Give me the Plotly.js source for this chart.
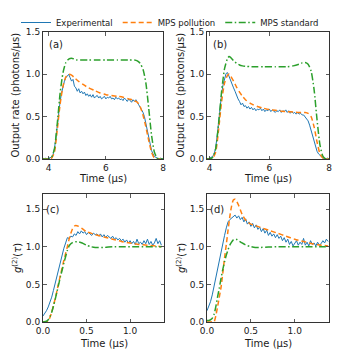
<!DOCTYPE html>
<html>
<head>
<meta charset="utf-8">
<script src="https://cdn.plot.ly/plotly-3.0.1.min.js"></script>
<style>
  html, body { margin: 0; padding: 0; background: #fff; }
  #chart { width: 342px; height: 358px; }
</style>
</head>
<body>
<div id="chart"></div>
<script>
(function () {
  'use strict';

  /* ---- panel (a): output rate, experiment vs MPS ---- */
  const tA = [3.80, 3.85, 3.90, 3.95, 4.00, 4.05, 4.10, 4.15, 4.20, 4.25, 4.30, 4.35, 4.40, 4.45, 4.50, 4.55,
    4.60, 4.65, 4.70, 4.75, 4.80, 4.85, 4.90, 4.95, 5.00, 5.05, 5.10, 5.15, 5.20, 5.25, 5.30, 5.35,
    5.40, 5.45, 5.50, 5.55, 5.60, 5.65, 5.70, 5.75, 5.80, 5.85, 5.90, 5.95, 6.00, 6.05, 6.10, 6.15,
    6.20, 6.25, 6.30, 6.35, 6.40, 6.45, 6.50, 6.55, 6.60, 6.65, 6.70, 6.75, 6.80, 6.85, 6.90, 6.95,
    7.00, 7.05, 7.10, 7.15, 7.20, 7.25, 7.30, 7.35, 7.40, 7.45, 7.50, 7.55, 7.60, 7.65, 7.70, 7.75,
    7.80, 7.85, 7.90, 7.95, 8.00];
  const expA = [0.01, 0.00, 0.01, 0.00, 0.01, 0.02, 0.02, 0.05, 0.12, 0.25, 0.42, 0.56, 0.68, 0.78, 0.86, 0.92,
    0.96, 0.98, 1.00, 0.96, 0.92, 0.94, 0.86, 0.84, 0.80, 0.83, 0.78, 0.80, 0.77, 0.79, 0.75, 0.77,
    0.74, 0.76, 0.73, 0.76, 0.72, 0.74, 0.75, 0.72, 0.74, 0.71, 0.73, 0.74, 0.71, 0.73, 0.72, 0.74,
    0.71, 0.72, 0.70, 0.73, 0.71, 0.72, 0.70, 0.71, 0.69, 0.72, 0.70, 0.68, 0.71, 0.69, 0.67, 0.70,
    0.68, 0.70, 0.66, 0.64, 0.61, 0.58, 0.55, 0.50, 0.42, 0.33, 0.24, 0.16, 0.10, 0.06, 0.03, 0.02,
    0.01, 0.00, 0.01, 0.00, 0.00];
  const tThA = [3.8, 4.0, 4.1, 4.2, 4.3, 4.4, 4.5, 4.6, 4.7, 4.8, 4.9, 5.0, 5.2, 5.4, 5.6, 5.8, 6.0,
    6.2, 6.4, 6.6, 6.8, 7.0, 7.1, 7.2, 7.3, 7.4, 7.5, 7.6, 7.7, 7.8, 7.9, 8.0];
  const polA = [0, 0, 0.01, 0.08, 0.35, 0.65, 0.86, 0.97, 1.00, 0.99, 0.96, 0.93, 0.88, 0.84, 0.81, 0.78, 0.76,
    0.75, 0.74, 0.73, 0.71, 0.69, 0.67, 0.62, 0.52, 0.38, 0.22, 0.08, 0.01, 0, 0, 0];
  const stdA = [0, 0, 0.02, 0.12, 0.42, 0.78, 1.02, 1.14, 1.18, 1.19, 1.18, 1.17, 1.17, 1.17, 1.17, 1.17, 1.17,
    1.17, 1.17, 1.17, 1.17, 1.17, 1.16, 1.13, 1.06, 0.90, 0.60, 0.28, 0.08, 0.01, 0, 0];

  /* ---- panel (b) ---- */
  const tB = [3.90, 3.95, 4.00, 4.05, 4.10, 4.15, 4.20, 4.25, 4.30, 4.35, 4.40, 4.45, 4.50, 4.55,
    4.60, 4.65, 4.70, 4.75, 4.80, 4.85, 4.90, 4.95, 5.00, 5.05, 5.10, 5.15, 5.20, 5.25, 5.30, 5.35,
    5.40, 5.45, 5.50, 5.55, 5.60, 5.65, 5.70, 5.75, 5.80, 5.85, 5.90, 5.95, 6.00, 6.05, 6.10, 6.15,
    6.20, 6.25, 6.30, 6.35, 6.40, 6.45, 6.50, 6.55, 6.60, 6.65, 6.70, 6.75, 6.80, 6.85, 6.90, 6.95,
    7.00, 7.05, 7.10, 7.15, 7.20, 7.25, 7.30, 7.35, 7.40, 7.45, 7.50, 7.55, 7.60, 7.65, 7.70, 7.75,
    7.80, 7.85, 7.90, 7.95, 8.00];
  const expB = [0.01, 0.00, 0.01, 0.02, 0.03, 0.06, 0.13, 0.27, 0.45, 0.62, 0.77, 0.88, 0.96, 1.01,
    1.02, 0.97, 0.93, 0.88, 0.84, 0.80, 0.74, 0.71, 0.68, 0.64, 0.66, 0.62, 0.63, 0.60, 0.62, 0.59,
    0.61, 0.58, 0.60, 0.57, 0.59, 0.58, 0.60, 0.57, 0.59, 0.56, 0.58, 0.57, 0.59, 0.56, 0.58, 0.57,
    0.55, 0.57, 0.56, 0.58, 0.55, 0.57, 0.56, 0.58, 0.55, 0.57, 0.54, 0.56, 0.54, 0.55, 0.53, 0.55,
    0.53, 0.54, 0.52, 0.52, 0.50, 0.48, 0.45, 0.40, 0.34, 0.27, 0.20, 0.14, 0.09, 0.06, 0.04, 0.02,
    0.01, 0.01, 0.00, 0.01, 0.00];
  const tThB = [3.9, 4.0, 4.1, 4.2, 4.3, 4.4, 4.5, 4.6, 4.65, 4.7, 4.8, 4.9, 5.0, 5.1, 5.2, 5.4, 5.6,
    5.8, 6.0, 6.2, 6.4, 6.6, 6.8, 7.0, 7.1, 7.2, 7.3, 7.4, 7.5, 7.6, 7.7, 7.8, 7.9, 8.0];
  const polB = [0, 0, 0.01, 0.08, 0.35, 0.68, 0.90, 0.99, 1.00, 0.98, 0.92, 0.85, 0.79, 0.74, 0.70, 0.65, 0.62,
    0.60, 0.585, 0.575, 0.565, 0.56, 0.555, 0.55, 0.55, 0.55, 0.54, 0.50, 0.38, 0.20, 0.06, 0.01, 0, 0];
  const stdB = [0, 0, 0.02, 0.12, 0.42, 0.80, 1.07, 1.19, 1.21, 1.20, 1.16, 1.13, 1.11, 1.10, 1.095, 1.09, 1.09,
    1.09, 1.09, 1.09, 1.09, 1.09, 1.10, 1.12, 1.135, 1.14, 1.12, 1.04, 0.82, 0.46, 0.16, 0.03, 0, 0];

  /* ---- panel (c): g2(tau) ---- */
  const tauC = [0.00, 0.02, 0.04, 0.06, 0.08, 0.10, 0.12, 0.14, 0.16, 0.18, 0.20, 0.22, 0.24, 0.26, 0.28, 0.30,
    0.32, 0.34, 0.36, 0.38, 0.40, 0.42, 0.44, 0.46, 0.48, 0.50, 0.52, 0.54, 0.56, 0.58, 0.60, 0.62,
    0.64, 0.66, 0.68, 0.70, 0.72, 0.74, 0.76, 0.78, 0.80, 0.82, 0.84, 0.86, 0.88, 0.90, 0.92, 0.94,
    0.96, 0.98, 1.00, 1.02, 1.04, 1.06, 1.08, 1.10, 1.12, 1.14, 1.16, 1.18, 1.20, 1.22, 1.24, 1.26,
    1.28, 1.30, 1.32, 1.34, 1.36];
  const expC = [0.08, 0.11, 0.15, 0.20, 0.26, 0.33, 0.42, 0.52, 0.62, 0.72, 0.80, 0.90, 0.98, 1.05, 1.12, 1.11,
    1.14, 1.13, 1.17, 1.15, 1.20, 1.17, 1.21, 1.18, 1.20, 1.16, 1.19, 1.17, 1.15, 1.18, 1.16, 1.17,
    1.14, 1.17, 1.13, 1.16, 1.12, 1.15, 1.13, 1.11, 1.14, 1.10, 1.12, 1.09, 1.11, 1.08, 1.10, 1.06,
    1.09, 1.05, 1.08, 1.04, 1.07, 1.03, 1.10, 1.04, 1.06, 1.03, 1.08, 1.04, 1.10, 1.03, 1.07, 1.02,
    1.05, 1.11, 1.04, 1.08, 1.02];
  const tauThC = [0.00, 0.04, 0.06, 0.08, 0.10, 0.12, 0.14, 0.16, 0.18, 0.20, 0.22, 0.24, 0.26, 0.28, 0.30,
    0.32, 0.34, 0.37, 0.41, 0.45, 0.50, 0.55, 0.60, 0.70, 0.80, 0.90, 1.00, 1.10, 1.20, 1.30, 1.36];
  const polC = [0, 0, 0.01, 0.06, 0.13, 0.22, 0.31, 0.41, 0.52, 0.62, 0.72, 0.82, 0.91, 1.00, 1.10,
    1.18, 1.24, 1.28, 1.27, 1.24, 1.20, 1.18, 1.16, 1.13, 1.10, 1.07, 1.05, 1.03, 1.02, 1.01, 1.00];
  const stdC = [0, 0.01, 0.03, 0.07, 0.13, 0.21, 0.30, 0.40, 0.50, 0.60, 0.69, 0.78, 0.87, 0.95, 1.01,
    1.04, 1.055, 1.065, 1.065, 1.05, 1.02, 1.00, 0.99, 0.99, 1.00, 1.00, 1.00, 1.00, 1.00, 1.00, 1.00];

  /* ---- panel (d) ---- */
  const tauD = [0.00, 0.02, 0.04, 0.06, 0.08, 0.10, 0.12, 0.14, 0.16, 0.18, 0.20, 0.22, 0.24, 0.26, 0.28, 0.30,
    0.32, 0.34, 0.36, 0.38, 0.40, 0.42, 0.44, 0.46, 0.48, 0.50, 0.52, 0.54, 0.56, 0.58, 0.60, 0.62,
    0.64, 0.66, 0.68, 0.70, 0.72, 0.74, 0.76, 0.78, 0.80, 0.82, 0.84, 0.86, 0.88, 0.90, 0.92, 0.94,
    0.96, 0.98, 1.00, 1.02, 1.04, 1.06, 1.08, 1.10, 1.12, 1.14, 1.16, 1.18, 1.20, 1.22, 1.24, 1.26,
    1.28, 1.30, 1.32, 1.34, 1.36, 1.38];
  const expD = [0.15, 0.20, 0.27, 0.36, 0.48, 0.60, 0.71, 0.82, 0.94, 1.05, 1.15, 1.25, 1.33, 1.36, 1.38, 1.40,
    1.42, 1.38, 1.41, 1.36, 1.39, 1.33, 1.37, 1.30, 1.33, 1.27, 1.31, 1.25, 1.29, 1.23, 1.26, 1.20,
    1.24, 1.18, 1.22, 1.15, 1.19, 1.14, 1.17, 1.12, 1.16, 1.11, 1.14, 1.08, 1.12, 1.06, 1.10, 1.03,
    1.07, 1.01, 1.05, 1.08, 1.02, 1.06, 1.03, 1.11, 1.02, 1.06, 1.01, 1.08, 1.03, 1.05, 1.01, 1.06,
    1.02, 1.04, 1.08, 1.05, 1.10, 1.07];
  const tauThD = [0.00, 0.02, 0.04, 0.06, 0.08, 0.10, 0.12, 0.14, 0.16, 0.18, 0.20, 0.22, 0.24, 0.26, 0.28,
    0.30, 0.32, 0.34, 0.36, 0.38, 0.40, 0.43, 0.46, 0.50, 0.55, 0.60, 0.70, 0.80, 0.90, 1.00, 1.10,
    1.20, 1.30, 1.38];
  const polD = [0, 0, 0, 0, 0, 0.08, 0.20, 0.33, 0.46, 0.65, 0.85, 1.03, 1.22, 1.40, 1.54,
    1.62, 1.63, 1.60, 1.55, 1.49, 1.43, 1.37, 1.33, 1.30, 1.28, 1.26, 1.22, 1.18, 1.14, 1.10, 1.07,
    1.04, 1.02, 1.01];
  const stdD = [0.02, 0.02, 0.03, 0.05, 0.10, 0.20, 0.33, 0.45, 0.58, 0.70, 0.80, 0.89, 0.96, 1.02, 1.06,
    1.09, 1.10, 1.095, 1.08, 1.065, 1.05, 1.03, 1.015, 1.00, 0.99, 0.99, 0.995, 1.00, 1.00, 1.00, 1.00,
    1.00, 1.00, 1.00];

  const NAMES = ['Experimental', 'MPS pollution', 'MPS standard'];
  const BLUE = '#1f77b4', ORANGE = '#ff7f0e', GREEN = '#2ca02c';
  const TXT = '#1a1a1a';

  function panel(xa, ya, tExp, yExp, tTh, yPol, yStd, legend) {
    return [
      { x: tExp, y: yExp, xaxis: xa, yaxis: ya, type: 'scatter', mode: 'lines',
        line: { color: BLUE, width: 1 }, name: NAMES[0], showlegend: legend },
      { x: tTh, y: yPol, xaxis: xa, yaxis: ya, type: 'scatter', mode: 'lines',
        line: { color: ORANGE, width: 1.5, dash: '5px,3px', shape: 'spline', smoothing: 0.6 },
        name: NAMES[1], showlegend: legend },
      { x: tTh, y: yStd, xaxis: xa, yaxis: ya, type: 'scatter', mode: 'lines',
        line: { color: GREEN, width: 1.5, dash: '7px,2.5px,1.5px,2.5px', shape: 'spline', smoothing: 0.6 },
        name: NAMES[2], showlegend: legend }
    ];
  }

  const traces = [].concat(
    panel('x', 'y', tA, expA, tThA, polA, stdA, true),
    panel('x2', 'y2', tB, expB, tThB, polB, stdB, false),
    panel('x3', 'y3', tauC, expC, tauThC, polC, stdC, false),
    panel('x4', 'y4', tauD, expD, tauThD, polD, stdD, false)
  );

  function ax(extra) {
    return Object.assign({
      showline: true, linecolor: '#333', linewidth: 1, mirror: 'ticks',
      ticks: 'inside', ticklen: 3.5, tickwidth: 0.8, tickcolor: '#333',
      showgrid: false, zeroline: false, fixedrange: true,
      tickfont: { size: 9, color: TXT }
    }, extra);
  }

  const W = 342, H = 358;
  const dx = (a, b) => [a / W, b / W];
  const dy = (top, bot) => [1 - bot / H, 1 - top / H];

  const yTopTicks = { tickvals: [0, 0.5, 1.0, 1.5], tickformat: '.1f' };
  const xBotTicks = { tickvals: [0, 0.5, 1.0], tickformat: '.1f' };

  function note(text, xref, yref, x, y, extra) {
    return Object.assign({ text: text, xref: xref, yref: yref, x: x, y: y,
      xanchor: 'center', yanchor: 'middle', showarrow: false, font: { size: 10, color: TXT } }, extra || {});
  }

  const layout = {
    width: W, height: H,
    margin: { l: 0, r: 0, t: 0, b: 0 },
    paper_bgcolor: '#fff', plot_bgcolor: '#fff',
    font: { family: 'DejaVu Sans, sans-serif', size: 10, color: TXT },
    xaxis: ax({ domain: dx(43, 163), range: [3.8, 8], tickvals: [4, 6, 8], anchor: 'y' }),
    yaxis: ax(Object.assign({ domain: dy(32, 159), range: [0, 1.5], anchor: 'x' }, yTopTicks)),
    xaxis2: ax({ domain: dx(207, 329), range: [3.91, 8], tickvals: [4, 6, 8], anchor: 'y2' }),
    yaxis2: ax(Object.assign({ domain: dy(32, 159), range: [0, 1.5], anchor: 'x2' }, yTopTicks)),
    xaxis3: ax(Object.assign({ domain: dx(43, 164), range: [0, 1.39], anchor: 'y3' }, xBotTicks)),
    yaxis3: ax(Object.assign({ domain: dy(194, 322), range: [0, 1.7], anchor: 'x3' }, yTopTicks)),
    xaxis4: ax(Object.assign({ domain: dx(207, 329), range: [0, 1.39], anchor: 'y4' }, xBotTicks)),
    yaxis4: ax(Object.assign({ domain: dy(194, 322), range: [0, 1.7], anchor: 'x4' }, yTopTicks)),
    showlegend: true,
    legend: {
      orientation: 'h', x: 16 / W, y: 1 - 8 / H, xanchor: 'left', yanchor: 'top',
      font: { size: 8.5, color: TXT }, bgcolor: 'rgba(0,0,0,0)', itemwidth: 30
    },
    annotations: [
      note('(a)', 'x domain', 'y domain', 0.03, 0.9, { xanchor: 'left' }),
      note('(b)', 'x2 domain', 'y2 domain', 0.03, 0.9, { xanchor: 'left' }),
      note('(c)', 'x3 domain', 'y3 domain', 0.01, 0.88, { xanchor: 'left' }),
      note('(d)', 'x4 domain', 'y4 domain', 0.01, 0.88, { xanchor: 'left' }),
      note('Output rate (photons/μs)', 'paper', 'y domain', 15 / W, 0.5, { textangle: -90 }),
      note('Output rate (photons/μs)', 'paper', 'y2 domain', 180 / W, 0.5, { textangle: -90 }),
      note('<i>g</i><sup>(2)</sup>(<i>τ</i>)', 'paper', 'y3 domain', 17 / W, 0.5, { textangle: -90 }),
      note('<i>g</i><sup>(2)</sup>(<i>τ</i>)', 'paper', 'y4 domain', 181 / W, 0.5, { textangle: -90 }),
      note('Time (μs)', 'x domain', 'paper', 0.5, 1 - 178 / H),
      note('Time (μs)', 'x2 domain', 'paper', 0.5, 1 - 178 / H),
      note('Time (μs)', 'x3 domain', 'paper', 0.5, 1 - 343 / H),
      note('Time (μs)', 'x4 domain', 'paper', 0.5, 1 - 343 / H)
    ]
  };

  Plotly.newPlot('chart', traces, layout, { displayModeBar: false, staticPlot: true });
})();
</script>
</body>
</html>
